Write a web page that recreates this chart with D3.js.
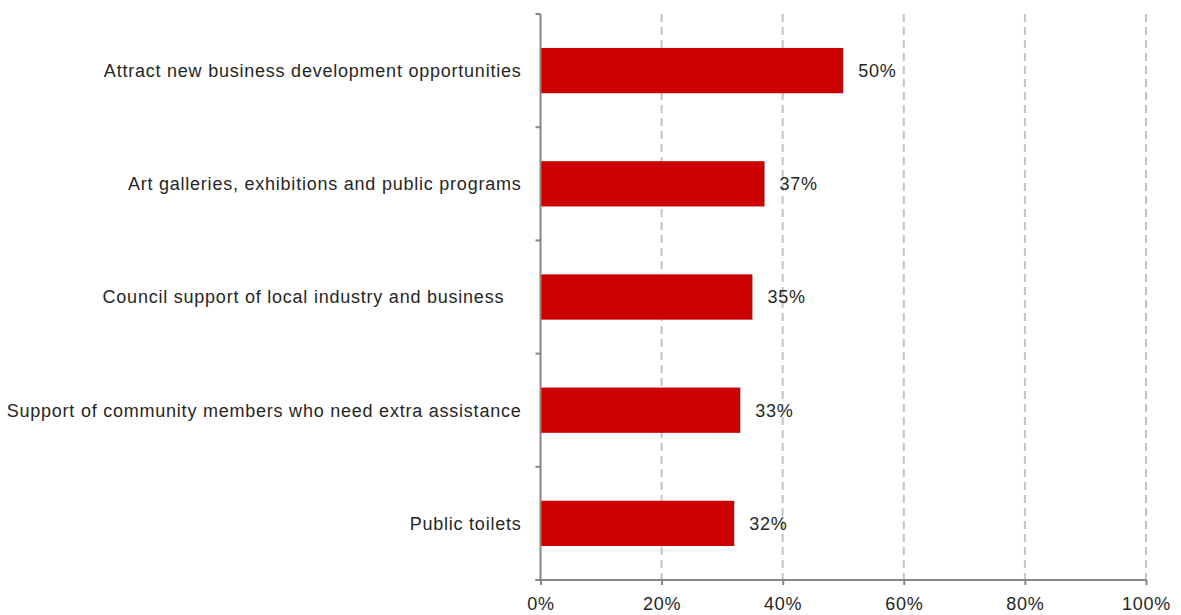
<!DOCTYPE html>
<html>
<head>
<meta charset="utf-8">
<script src="https://cdn.jsdelivr.net/npm/d3@7"></script>
<style>
  html, body { margin: 0; padding: 0; background: #fff; }
  svg { display: block; }
  text { font-family: "Liberation Sans", Arial, sans-serif; fill: #262626; letter-spacing: 0.77px; }
</style>
</head>
<body>
<svg id="chart" width="1181" height="615"></svg>
<script>
// Survey priorities, share of respondents
const categories = [
  "Attract new business development opportunities",
  "Art galleries, exhibitions and public programs",
  "Council support of local industry and business   ",
  "Support of community members who need extra assistance",
  "Public toilets"
];
const values = [0.50, 0.37, 0.35, 0.33, 0.32];
const tickValues = [0, 0.2, 0.4, 0.6, 0.8, 1.0];
const tickLabels = ["0%", "20%", "40%", "60%", "80%", "100%"];

const svg = d3.select("#chart");
const plotLeft = 540.5, plotRight = 1146, plotTop = 14, plotBottom = 580;
const fontSize = 18;

const x = d3.scaleLinear().domain([0, 1]).range([plotLeft, plotRight]);
const y = d3.scaleBand().domain(categories).range([plotTop, plotBottom])
  .paddingInner(0.6).paddingOuter(0.3);

// dashed vertical gridlines
svg.append("g")
  .selectAll("line")
  .data(tickValues.slice(1))
  .join("line")
  .attr("x1", d => x(d)).attr("x2", d => x(d))
  .attr("y1", plotTop).attr("y2", plotBottom)
  .attr("stroke", "#c4c4c4")
  .attr("stroke-width", 2)
  .attr("stroke-dasharray", "8,5");

// bars
svg.append("g")
  .selectAll("rect")
  .data(categories)
  .join("rect")
  .attr("x", x(0))
  .attr("y", d => y(d))
  .attr("width", (d, i) => x(values[i]) - x(0))
  .attr("height", y.bandwidth())
  .attr("fill", "#cc0000");

// value labels
svg.append("g")
  .selectAll("text")
  .data(categories)
  .join("text")
  .attr("x", (d, i) => x(values[i]) + 15)
  .attr("y", d => y(d) + y.bandwidth() / 2)
  .attr("dy", "0.35em")
  .attr("font-size", fontSize)
  .text((d, i) => Math.round(values[i] * 100) + "%");

// x axis
const xAxis = d3.axisBottom(x)
  .tickValues(tickValues)
  .tickFormat((d, i) => tickLabels[i])
  .tickSize(5)
  .tickPadding(12);
const gx = svg.append("g")
  .attr("transform", `translate(0,${plotBottom})`)
  .call(xAxis);
gx.select(".domain").attr("stroke", "#868686").attr("stroke-width", 2)
  .attr("d", `M${plotLeft - 5},0H${plotRight}`);
gx.selectAll(".tick line").attr("stroke", "#868686").attr("stroke-width", 2);
gx.selectAll(".tick text").attr("font-size", fontSize).attr("fill", "#262626")
  .attr("font-family", null);

// y axis: category boundaries get tick marks
const gy = svg.append("g");
gy.append("line")
  .attr("x1", plotLeft).attr("x2", plotLeft)
  .attr("y1", plotTop).attr("y2", plotBottom)
  .attr("stroke", "#868686").attr("stroke-width", 2);
const bounds = d3.range(categories.length + 1).map(i => plotTop + i * y.step());
gy.selectAll("line.tk")
  .data(bounds)
  .join("line")
  .attr("class", "tk")
  .attr("x1", plotLeft - 5).attr("x2", plotLeft)
  .attr("y1", d => d).attr("y2", d => d)
  .attr("stroke", "#868686").attr("stroke-width", 2);

// category labels
gy.selectAll("text")
  .data(categories)
  .join("text")
  .attr("x", plotLeft - 19)
  .attr("y", d => y(d) + y.bandwidth() / 2)
  .attr("dy", "0.35em")
  .attr("text-anchor", "end")
  .attr("font-size", fontSize)
  .style("white-space", "pre")
  .text(d => d);
</script>
</body>
</html>
